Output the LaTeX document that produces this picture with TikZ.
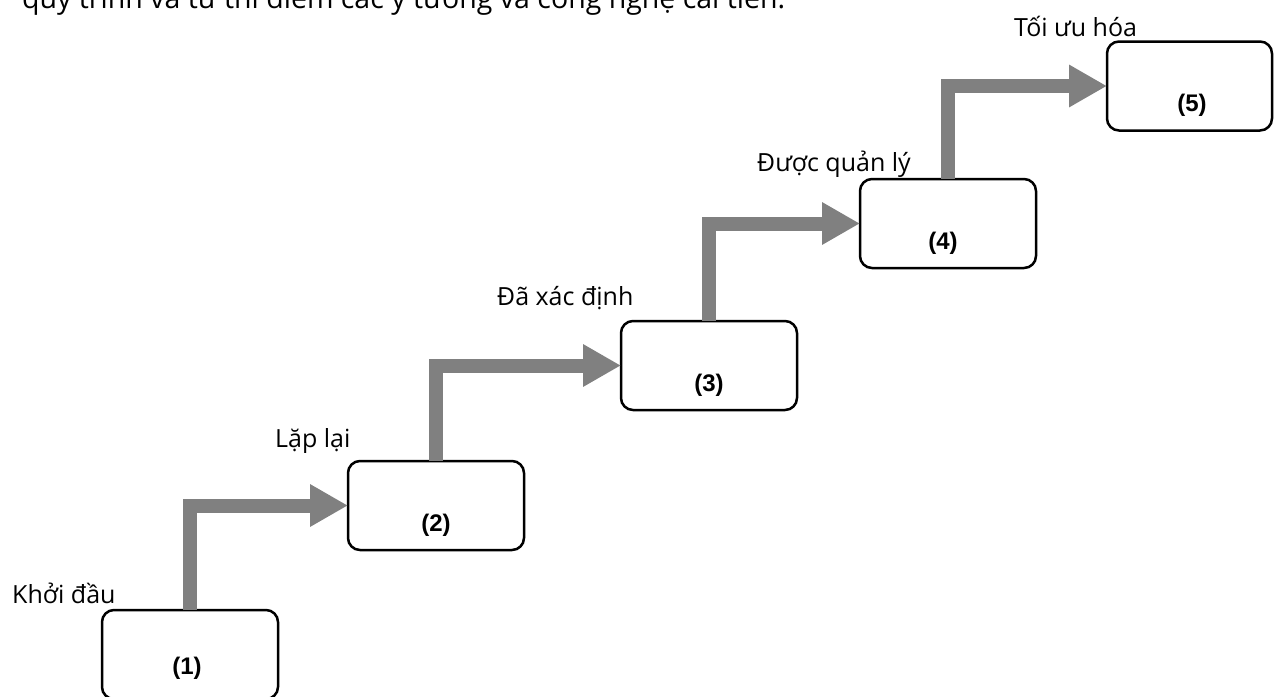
\documentclass[tikz,border=0pt]{standalone}
\usepackage{fontspec}
\setmainfont{Open Sans}
\newfontfamily\boxfont{Liberation Sans}
\usetikzlibrary{arrows.meta}
\definecolor{flowgray}{HTML}{808080}
\tikzset{
  level/.style={draw=black, line width=2.5pt, rounded corners=12pt,
    minimum width=176pt, minimum height=89pt, inner sep=0pt, outer sep=0pt},
  levelnum/.style={font=\boxfont\bfseries\fontsize{24}{28}\selectfont},
  levelname/.style={font=\fontsize{25}{30}\selectfont, anchor=west, inner sep=0pt},
  flow/.style={draw=flowgray, line width=14pt, line join=miter,
    -{Triangle[length=38pt,width=40pt]}},
}
\begin{document}
\begin{tikzpicture}[x=1pt,y=-1pt]
\useasboundingbox (0,0) rectangle (1274,696);
\clip (0,0) rectangle (1274,696);

% closing line of the paragraph above the figure
\node[font=\fontsize{28.5}{34}\selectfont, anchor=base west, inner sep=0pt] (intro) at (22,9)
  {quy trình và tư thi điểm các ý tưởng và công nghệ cải tiến.};

% maturity levels
\node[level] (b1) at (190,654.5) {};
\node[level] (b2) at (436,505.5) {};
\node[level] (b3) at (709,365.5) {};
\node[level] (b4) at (948,223.5) {};
\node[level, minimum width=165pt] (b5) at (1189.5,86) {};

\node[levelnum] (n1) at (187,668) {(1)};
\node[levelnum] (n2) at (436,525) {(2)};
\node[levelnum] (n3) at (709,385) {(3)};
\node[levelnum] (n4) at (943,243) {(4)};
\node[levelnum] (n5) at (1192,105) {(5)};

% level names
\node[levelname] (t1) at (12,593) {Khởi đầu};
\node[levelname] (t2) at (275,441) {Lặp lại};
\node[levelname] (t3) at (497,298) {Đã xác định};
\node[levelname] (t4) at (757,164) {Được quản lý};
\node[levelname] (t5) at (1014,26) {Tối ưu hóa};

% step-up arrows
\draw[flow] (b1.north) |- (b2.west);
\draw[flow] (b2.north) |- (b3.west);
\draw[flow] (b3.north) |- (b4.west);
\draw[flow] (b4.north) |- (b5.west);
\end{tikzpicture}
\end{document}
